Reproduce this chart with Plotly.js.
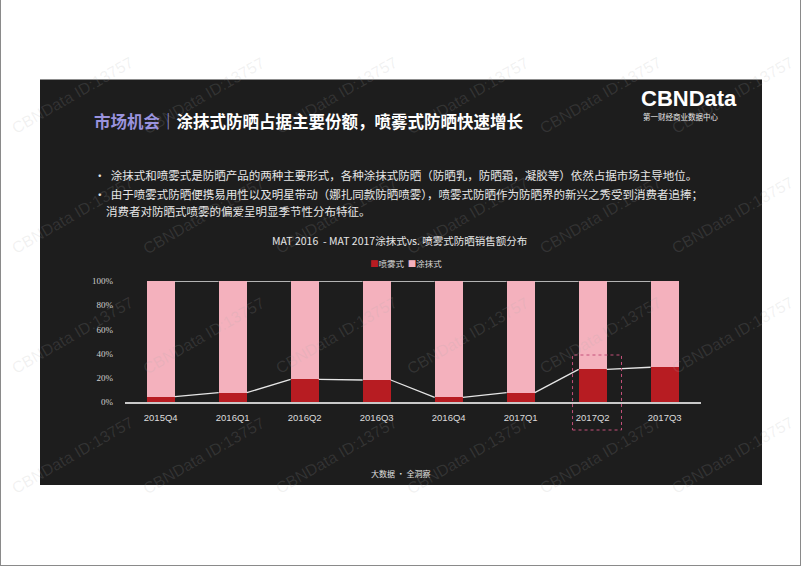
<!DOCTYPE html>
<html>
<head>
<meta charset="utf-8">
<script src="https://cdn.plot.ly/plotly-3.0.1.min.js"></script>
<style>html,body{margin:0;padding:0;background:#fff;}#chart{width:802px;height:567px;}</style>
</head>
<body>
<div id="chart"></div>
<script>
// ---- data ----
var quarters = ['2015Q4','2016Q1','2016Q2','2016Q3','2016Q4','2017Q1','2017Q2','2017Q3'];
var spray = [4.4, 7.7, 18.7, 18.2, 3.9, 7.7, 27.0, 28.7];   // 喷雾式 %
var smear = [95.6, 92.3, 81.3, 81.8, 96.1, 92.3, 73.0, 71.3]; // 涂抹式 %
var yTickVals = [0, 20, 40, 60, 80, 100];
var yTickText = ['0%', '20%', '40%', '60%', '80%', '100%'];
var seriesNames = ['喷雾式', '涂抹式'];
var highlightQuarter = '2017Q2';

var W = 802, H = 567;
function px(x){ return x / W; }
function py(y){ return 1 - y / H; }

var RED = '#b71c22', PINK = '#f4b1bd';
var CJK = '"Noto Sans CJK SC", "Noto Sans", sans-serif';

var barGap = 0.61, half = (1 - barGap) / 2;

// series lines (connect bar edges at each stacked level)
var slX = [], slLow = [], slTop = [];
for (var i = 0; i < quarters.length - 1; i++) {
  slX.push(i + half, i + 1 - half, null);
  slLow.push(spray[i], spray[i + 1], null);
  slTop.push(spray[i] + smear[i], spray[i + 1] + smear[i + 1], null);
}

var traces = [
  {type:'bar', name:seriesNames[0], x:quarters, y:spray, marker:{color:RED}, hoverinfo:'skip'},
  {type:'bar', name:seriesNames[1], x:quarters, y:smear, marker:{color:PINK}, hoverinfo:'skip'},
  {type:'scatter', mode:'lines', x:slX.concat(slX), y:slLow.concat(slTop), xaxis:'x2', yaxis:'y',
   line:{color:'#e6e6e6', width:1.3}, connectgaps:false, showlegend:false, hoverinfo:'skip'}
];

var hi = quarters.indexOf(highlightQuarter);

var shapes = [
  // dark panel
  {type:'rect', xref:'paper', yref:'paper', x0:px(40), x1:px(762), y0:py(485), y1:py(79.5),
   fillcolor:'#1d1d1d', line:{width:0}, layer:'below'},
  // page border (left, right, bottom)
  {type:'line', xref:'paper', yref:'paper', x0:px(0.5), x1:px(0.5), y0:py(566), y1:1, line:{color:'#8a8a8a', width:1}},
  {type:'line', xref:'paper', yref:'paper', x0:px(800.5), x1:px(800.5), y0:py(566), y1:1, line:{color:'#8a8a8a', width:1}},
  {type:'line', xref:'paper', yref:'paper', x0:0, x1:px(801), y0:py(565.5), y1:py(565.5), line:{color:'#8a8a8a', width:1}},
  // highlight box
  {type:'rect', xref:'x2', yref:'paper', x0:hi - 0.28, x1:hi + 0.40, y0:py(430), y1:py(355),
   line:{color:'#c4507a', width:1, dash:'dot'}, fillcolor:'rgba(0,0,0,0)'}
];

var annotations = [];

// watermarks (drawn first so real texts sit above them)
var wmRows = [95, 215, 335, 455];
for (var r = 0; r < wmRows.length; r++) {
  for (var c = 0; c < 6; c++) {
    annotations.push({xref:'paper', yref:'paper', x:px(72 + 132 * c), y:py(wmRows[r]),
      xanchor:'center', yanchor:'middle', showarrow:false, textangle:-30,
      text:'CBNData ID:13757', font:{family:'"Liberation Sans", Arial, sans-serif', size:16, color:'rgba(170,170,170,0.16)'}});
  }
}

annotations = annotations.concat([
  {xref:'paper', yref:'paper', x:px(92), y:py(121), xanchor:'left', yanchor:'middle', showarrow:false,
   text:'<b><span style="color:#9a93de">市场机会｜</span>涂抹式防晒占据主要份额，喷雾式防晒快速增长</b>',
   font:{family:CJK, size:16.5, color:'#ffffff'}},
  {xref:'paper', yref:'paper', x:px(639), y:py(98), xanchor:'left', yanchor:'middle', showarrow:false,
   text:'<b>CBNData</b>', font:{family:'"Liberation Sans", Arial, sans-serif', size:22, color:'#ffffff'}},
  {xref:'paper', yref:'paper', x:px(641), y:py(117), xanchor:'left', yanchor:'middle', showarrow:false,
   text:'第一财经商业数据中心', font:{family:CJK, size:7.5, color:'#e8e8e8'}},
  {xref:'paper', yref:'paper', x:px(92), y:py(175), xanchor:'left', yanchor:'middle', showarrow:false,
   text:'•  涂抹式和喷雾式是防晒产品的两种主要形式，各种涂抹式防晒（防晒乳，防晒霜，凝胶等）依然占据市场主导地位。',
   font:{family:CJK, size:11.5, color:'#e6e6e6'}},
  {xref:'paper', yref:'paper', x:px(92), y:py(193.5), xanchor:'left', yanchor:'middle', showarrow:false,
   text:'•  由于喷雾式防晒便携易用性以及明星带动（娜扎同款防晒喷雾），喷雾式防晒作为防晒界的新兴之秀受到消费者追捧；',
   font:{family:CJK, size:11.5, color:'#e6e6e6'}},
  {xref:'paper', yref:'paper', x:px(104), y:py(211), xanchor:'left', yanchor:'middle', showarrow:false,
   text:'消费者对防晒式喷雾的偏爱呈明显季节性分布特征。',
   font:{family:CJK, size:11.5, color:'#e6e6e6'}},
  {xref:'paper', yref:'paper', x:px(399), y:py(240), xanchor:'center', yanchor:'middle', showarrow:false,
   text:'MAT 2016  - MAT 2017涂抹式vs. 喷雾式防晒销售额分布',
   font:{family:CJK, size:10.5, color:'#e6e6e6'}},
  {xref:'paper', yref:'paper', x:px(368), y:py(263), xanchor:'left', yanchor:'middle', showarrow:false,
   text:'<span style="color:' + RED + '">■</span>' + seriesNames[0] + '  <span style="color:' + PINK + '">■</span>' + seriesNames[1],
   font:{family:CJK, size:8.5, color:'#d8d8d8'}},
  {xref:'paper', yref:'paper', x:px(401), y:py(473), xanchor:'center', yanchor:'middle', showarrow:false,
   text:'大数据 · 全洞察', font:{family:CJK, size:8, color:'#e0e0e0'}}
]);

var layout = {
  width:W, height:H, margin:{l:0, r:0, t:0, b:0},
  paper_bgcolor:'#ffffff', plot_bgcolor:'rgba(0,0,0,0)',
  barmode:'stack', bargap:barGap, showlegend:false,
  xaxis:{domain:[px(124.7), px(700.7)], type:'category', range:[-0.5, 7.5], fixedrange:true,
    showgrid:false, zeroline:false, showline:true, linecolor:'#c8c8c8', linewidth:1.5,
    ticks:'outside', ticklen:6, tickcolor:'rgba(0,0,0,0)',
    tickfont:{family:'"Liberation Sans", Arial, sans-serif', size:9.5, color:'#dcdcdc'}},
  xaxis2:{domain:[px(124.7), px(700.7)], overlaying:'x', range:[-0.5, 7.5], visible:false, fixedrange:true},
  yaxis:{domain:[py(402), py(281)], range:[0, 100], fixedrange:true,
    showgrid:false, zeroline:false, showline:false,
    tickvals:yTickVals, ticktext:yTickText,
    ticks:'outside', ticklen:9, tickcolor:'rgba(0,0,0,0)',
    tickfont:{family:'"Liberation Serif", "Times New Roman", serif', size:9, color:'#cfcfcf'}},
  shapes:shapes, annotations:annotations
};

Plotly.newPlot('chart', traces, layout, {displayModeBar:false, staticPlot:true});
</script>
</body>
</html>
